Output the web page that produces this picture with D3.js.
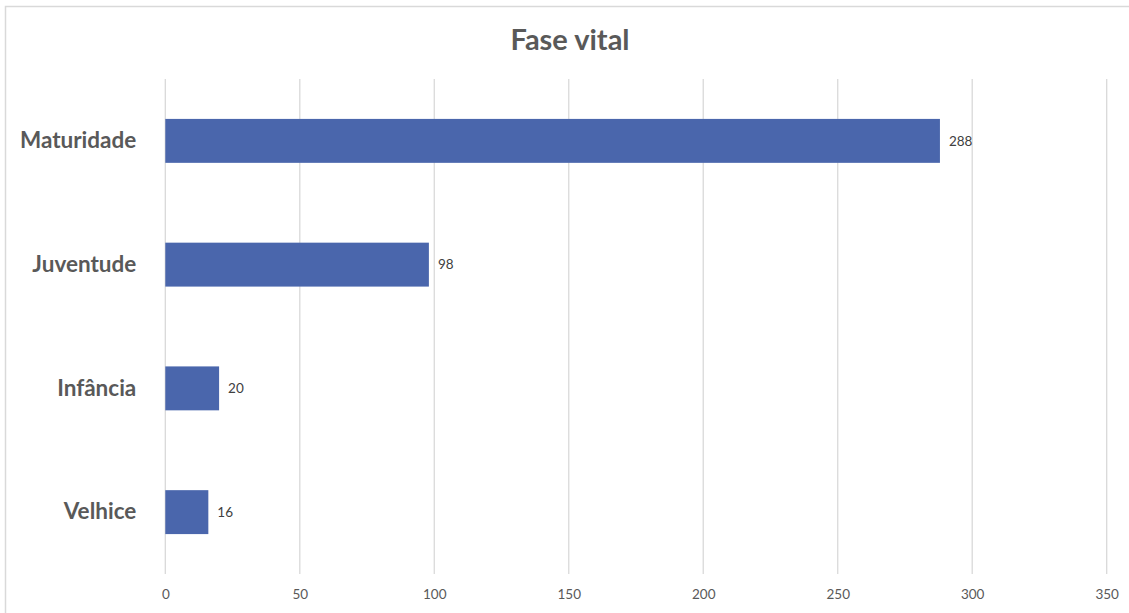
<!DOCTYPE html>
<html>
<head>
<meta charset="utf-8">
<script src="https://cdn.jsdelivr.net/npm/d3@7"></script>
<style>
  html, body { margin: 0; padding: 0; background: #fff; }
  svg { display: block; }
</style>
</head>
<body>
<svg id="chart" width="1129" height="613"></svg>
<script>
// Fase vital: número de registos por fase
const categories = ["Maturidade", "Juventude", "Infância", "Velhice"];
const values = [288, 98, 20, 16];
const xTicks = [0, 50, 100, 150, 200, 250, 300, 350];
const title = "Fase vital";

const font = "Lato, 'Open Sans', sans-serif";
const svg = d3.select("#chart");

// chart frame (right and bottom edges run off the page)
svg.append("rect")
  .attr("x", 5.5).attr("y", 6.5)
  .attr("width", 1140).attr("height", 620)
  .attr("fill", "#fff")
  .attr("stroke", "#d9d9d9").attr("stroke-width", 1.5);

const plot = { left: 165.3, right: 1106.7, top: 79, bottom: 574 };

const x = d3.scaleLinear().domain([0, 350]).range([plot.left, plot.right]);
const y = d3.scaleBand().domain(categories).range([plot.top, plot.bottom]).paddingInner(0.645).paddingOuter(0.3225);

// vertical gridlines
svg.append("g").selectAll("line").data(xTicks).join("line")
  .attr("x1", d => x(d)).attr("x2", d => x(d))
  .attr("y1", plot.top).attr("y2", plot.bottom)
  .attr("stroke", "#d9d9d9").attr("stroke-width", 1.3);

// x-axis labels
const xAxis = d3.axisBottom(x).tickValues(xTicks).tickSize(0).tickPadding(0);
const gx = svg.append("g").attr("transform", `translate(0,${plot.bottom + 21})`).call(xAxis);
gx.select(".domain").remove();
gx.selectAll("text")
  .attr("font-family", font).attr("font-size", 13.5).attr("fill", "#595959")
  .attr("dy", "0.32em");

// category labels
const yAxis = d3.axisLeft(y).tickSize(0).tickPadding(29);
const gy = svg.append("g").attr("transform", `translate(${plot.left},0)`).call(yAxis);
gy.select(".domain").remove();
gy.selectAll("text")
  .attr("font-family", font).attr("font-size", 22.5).attr("font-weight", "bold")
  .attr("fill", "#595959");

// bars
svg.append("g").selectAll("rect").data(categories).join("rect")
  .attr("x", x(0))
  .attr("y", d => y(d))
  .attr("width", (d, i) => x(values[i]) - x(0))
  .attr("height", y.bandwidth())
  .attr("fill", "#4a66ac");

// value labels
svg.append("g").selectAll("text").data(categories).join("text")
  .attr("x", (d, i) => x(values[i]) + 9)
  .attr("y", d => y(d) + y.bandwidth() / 2)
  .attr("dy", "0.35em")
  .attr("font-family", font).attr("font-size", 13.5).attr("fill", "#404040")
  .text((d, i) => values[i]);

// title
svg.append("text")
  .attr("x", 570).attr("y", 40)
  .attr("dy", "0.35em")
  .attr("text-anchor", "middle")
  .attr("font-family", font).attr("font-size", 29).attr("font-weight", "bold")
  .attr("fill", "#595959")
  .text(title);
</script>
</body>
</html>
